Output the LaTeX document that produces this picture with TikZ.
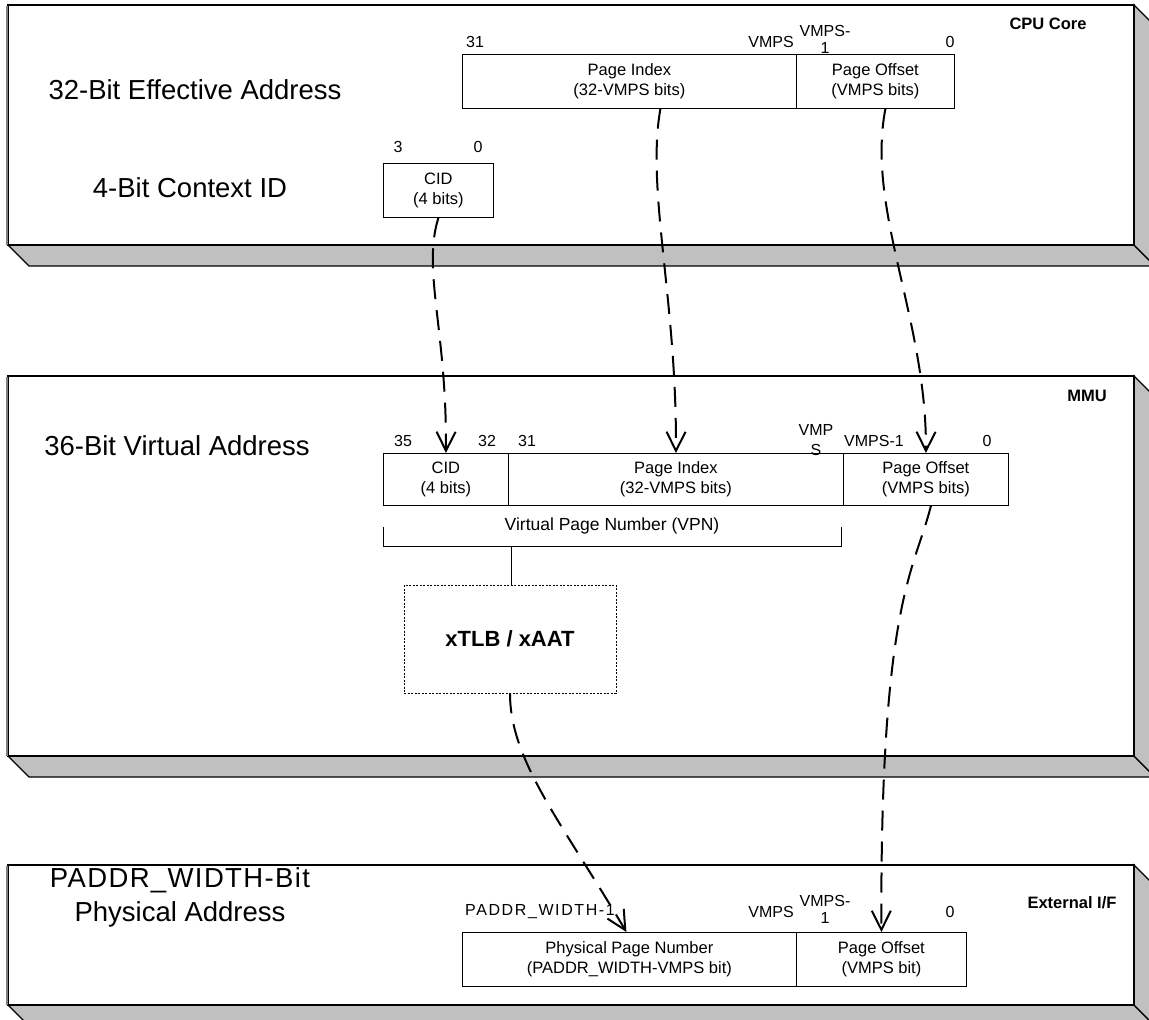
\documentclass[tikz,border=0pt]{standalone}
\usepackage{fontspec}
\setmainfont{Liberation Sans}
\usetikzlibrary{arrows.meta}
\definecolor{slabgray}{HTML}{C0C0C0}
\begin{document}
\begin{tikzpicture}[x=1pt,y=-1pt,
  face/.style={fill=slabgray,draw=black,line width=1.2pt,line join=miter},
  front/.style={fill=white,draw=black,line width=1.2pt},
  field/.style={draw=black,line width=0.8pt,inner sep=0pt,align=center,
    font=\fontsize{16.5}{20}\selectfont,anchor=north west},
  bitnum/.style={inner sep=0pt,font=\fontsize{16}{17}\selectfont,align=center},
  biglabel/.style={inner sep=0pt,font=\fontsize{27.5}{34}\selectfont,align=center},
  unitlabel/.style={inner sep=0pt,font=\bfseries\fontsize{16.5}{18}\selectfont},
  vpnlabel/.style={inner sep=0pt,font=\fontsize{17.5}{18}\selectfont},
  xfer/.style={line width=2pt,dash pattern=on 20pt off 11pt,
    -{Straight Barb[length=19pt,width=19pt,line width=2pt]}},
]
\useasboundingbox (0,0) rectangle (1149,1020);
% ---------- slabs ----------
\foreach \t/\b in {5/245, 376/756, 865/1005}{
  \draw[face] (8,\b) -- (29,\b+21) -- (1155,\b+21) -- (1134,\b) -- cycle;
  \draw[face] (1134,\t) -- (1155,\t+21) -- (1155,\b+21) -- (1134,\b) -- cycle;
  \draw[front] (8,\t) rectangle (1134,\b);
  \draw[gray,line width=2pt] (7,\t+1) -- (7,\b);
}
% ---------- CPU Core ----------
\node[unitlabel] (cpuT) at (1048,24) {CPU Core};
\node[biglabel] (eaL) at (195,90) {32-Bit Effective Address};
\node[biglabel] (cidL) at (190,188) {4-Bit Context ID};
\node[field,minimum width=334,minimum height=54] (cpuPI) at (462,54) {Page Index\\(32-VMPS bits)};
\node[field,minimum width=158,minimum height=54] (cpuPO) at (796,54) {Page Offset\\(VMPS bits)};
\node[bitnum] (c31) at (475,42) {31};
\node[bitnum] (cV) at (771,42) {VMPS};
\node[bitnum] (cV1) at (825,39) {VMPS-\\1};
\node[bitnum] (c0) at (950,42) {0};
\node[field,minimum width=110,minimum height=54] (cpuCID) at (383,163) {CID\\(4 bits)};
\node[bitnum] (c3) at (398,147) {3};
\node[bitnum] (cc0) at (478,147) {0};
% ---------- MMU ----------
\node[unitlabel] (mmuT) at (1087,396) {MMU};
\node[biglabel] (vaL) at (177,446) {36-Bit Virtual Address};
\node[field,minimum width=125,minimum height=52] (mmuCID) at (383,453) {CID\\(4 bits)};
\node[field,minimum width=335,minimum height=52] (mmuPI) at (508,453) {Page Index\\(32-VMPS bits)};
\node[field,minimum width=165,minimum height=52] (mmuPO) at (843,453) {Page Offset\\(VMPS bits)};
\node[bitnum] (m35) at (403,441) {35};
\node[bitnum] (m32) at (487,441) {32};
\node[bitnum] (m31) at (527,441) {31};
\node[bitnum,font=\fontsize{16}{20}\selectfont] (mV) at (816,440) {VMP\\S};
\node[bitnum] (mV1) at (874,441) {VMPS-1};
\node[bitnum] (m0) at (987,441) {0};
\node[vpnlabel] (vpn) at (612,526) {Virtual Page Number (VPN)};
\coordinate (vpnLt) at (383,527);
\coordinate (vpnL) at (383,546);
\coordinate (vpnR) at (841,546);
\coordinate (vpnRt) at (841,527);
\coordinate (vpnM) at (511,546);
\draw[line width=0.8pt] (vpnLt) -- (vpnL) -- (vpnR) -- (vpnRt);
\node[draw=black,line width=0.8pt,dash pattern=on 2pt off 1.5pt,minimum width=212,minimum height=108,
  inner sep=0pt,font=\bfseries\fontsize{22}{24}\selectfont] (xtlb) at (510,639) {xTLB / xAAT};
\draw[line width=0.8pt] (vpnM) -- (vpnM |- xtlb.north);
% ---------- External I/F ----------
\node[unitlabel] (extT) at (1072,903) {External I/F};
\node[biglabel] (paL) at (180,897) {{\addfontfeatures{LetterSpace=5}PADDR\_WIDTH-Bit}\\Physical Address};
\node[field,minimum width=334,minimum height=54] (extPPN) at (462,932) {Physical Page Number\\(PADDR\_WIDTH-VMPS bit)};
\node[field,minimum width=170,minimum height=54] (extPO) at (796,932) {Page Offset\\(VMPS bit)};
\node[bitnum,anchor=east] (eW) at (615,912) {\addfontfeatures{LetterSpace=10}PADDR\_WIDTH-1};
\node[bitnum] (eV) at (771,912) {VMPS};
\node[bitnum] (eV1) at (825,909) {VMPS-\\1};
\node[bitnum] (e0) at (950,912) {0};
% ---------- transfers ----------
\draw[xfer] (cpuCID.south) .. controls (422,270) and (447,330) .. (mmuCID.north);
\draw[xfer] ([xshift=31]cpuPI.south) .. controls (646,190) and (677,300) .. (mmuPI.north);
\draw[xfer] ([xshift=10]cpuPO.south) .. controls (866,210) and (927,320) .. (mmuPO.north);
\draw[xfer] ([xshift=5]mmuPO.south) .. controls (915,570) and (880,600) .. (extPO.north);
\draw[xfer] (xtlb.south) .. controls (510,760) and (560,820) .. ([xshift=-3]extPPN.north);
\end{tikzpicture}
\end{document}
